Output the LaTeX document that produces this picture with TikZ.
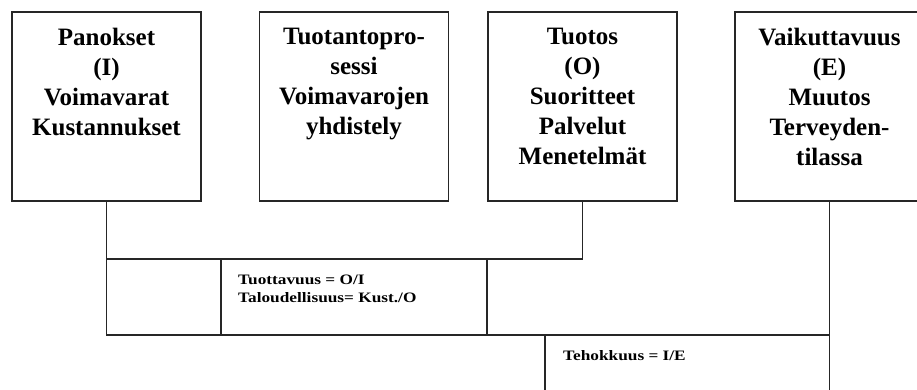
\documentclass[tikz,border=0pt]{standalone}
\usepackage{fontspec}
\setmainfont{Liberation Serif}
\newfontfamily\smallserif[FakeStretch=1.2]{Liberation Serif}
\begin{document}
\begin{tikzpicture}[x=1pt,y=-1pt,
  linestyle/.style={line width=1.6pt,draw=black!85},
  bigbox/.style={linestyle,minimum width=189pt,minimum height=189pt,inner sep=0pt},
  boxtext/.style={anchor=north,align=center,inner sep=0pt,font=\bfseries\fontsize{25}{30}\selectfont},
  smalltext/.style={inner sep=0pt,align=left,font=\smallserif\bfseries\fontsize{14.4}{18}\selectfont}]
\clip (0,0) rectangle (917,390);
\fill[white] (0,0) rectangle (917,390);
% boxes
\node[bigbox] (b1) at (106.5,106.5) {};
\node[bigbox] (b2) at (354,106.5) {};
\node[bigbox] (b3) at (582.5,106.5) {};
\node[bigbox] (b4) at (829.5,106.5) {};
% box texts
\node[boxtext] (t1) at (106.5,28) {Panokset\\(I)\\Voimavarat\\Kustannukset};
\node[boxtext] (t2) at (354,28) {Tuotantopro-\\sessi\\Voimavarojen\\yhdistely};
\node[boxtext] (t3) at (582.5,28) {Tuotos\\(O)\\Suoritteet\\Palvelut\\Menetelmät};
\node[boxtext] (t4) at (829.5,28) {Vaikuttavuus\\(E)\\Muutos\\Terveyden-\\tilassa};
% junction coordinates
\coordinate (c1) at (b1.south |- 0,259);
\coordinate (c3) at (b3.south |- 0,259);
\coordinate (d1) at (b1.south |- 0,335);
\coordinate (d4) at (b4.south |- 0,335);
\coordinate (e4) at (b4.south |- 0,400);
\coordinate (m1t) at (221,259);
\coordinate (m1b) at (221,335);
\coordinate (m2t) at (487,259);
\coordinate (m2b) at (487,335);
\coordinate (m3t) at (545,335);
\coordinate (m3b) at (545,400);
% connectors
\draw[linestyle] (b1.south) -- (c1) -- (c3) -- (b3.south);
\draw[linestyle] (c1) -- (d1) -- (d4);
\draw[linestyle] (m1t) -- (m1b);
\draw[linestyle] (m2t) -- (m2b);
\draw[linestyle] (b4.south) -- (e4);
\draw[linestyle] (m3t) -- (m3b);
% labels
\node[smalltext,anchor=north west] (l1) at (238,274.5) {Tuottavuus = O/I\\Taloudellisuus= Kust./O};
\node[smalltext,anchor=base west] (l2) at (563,360) {Tehokkuus = I/E};
\end{tikzpicture}
\end{document}
